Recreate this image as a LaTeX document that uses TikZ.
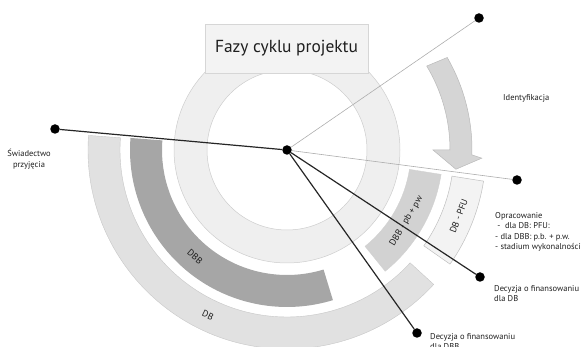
\documentclass[tikz,border=0pt]{standalone}
\usepackage{fontspec}
\setmainfont{PT Sans}
\definecolor{ringc}{HTML}{EFEFEF}
\definecolor{ringe}{HTML}{CDCDCD}
\definecolor{boxc}{HTML}{F3F3F3}
\definecolor{boxe}{HTML}{D6D6D6}
\definecolor{dbbc}{HTML}{A6A6A6}
\definecolor{pbc}{HTML}{D2D2D2}
\definecolor{dbc}{HTML}{E1E1E1}
\definecolor{pfuc}{HTML}{F3F3F3}
\definecolor{arrc}{HTML}{D5D5D5}
\definecolor{arre}{HTML}{B9B9B9}
\definecolor{txt}{HTML}{1E1E1E}
\begin{document}
\begin{tikzpicture}[x=1pt,y=1pt,
  lbl/.style={font=\fontsize{8.5}{10}\selectfont, text=txt, inner sep=0pt, anchor=base west},
  clbl/.style={font=\fontsize{8.5}{10}\selectfont, text=txt, inner sep=0pt, anchor=base},
  bandlbl/.style={font=\fontsize{9.2}{10}\selectfont, text=txt, inner sep=0pt},
  dotnode/.style={circle, fill=black, minimum size=9.5pt, inner sep=0pt},
  thinln/.style={draw=black!32, line width=0.6pt},
  thickln/.style={draw=black!85, line width=1.2pt},
  bandedge/.style={draw=black!22, line width=0.4pt}]
\useasboundingbox (0,0) rectangle (587,347);
\clip (0,0) rectangle (587,347);

\begin{scope}[shift={(287,197)}]
  % inner ring
  \path[fill=ringc, draw=ringe, line width=0.5pt, even odd rule]
    (0,0) circle[radius=113pt] (0,0) circle[radius=80pt];
  % DB band
  \path[fill=dbc, bandedge]
    (175.8:199pt) arc[start angle=175.8, end angle=317.5, radius=199pt]
    -- (317.5:167pt) arc[start angle=317.5, end angle=175.8, radius=167pt] -- cycle;
  % DB - PFU
  \path[fill=pfuc, draw=black!25, line width=0.5pt]
    (-35:199pt) arc[start angle=-35, end angle=-9, radius=199pt]
    -- (-9:167pt) arc[start angle=-9, end angle=-35, radius=167pt] -- cycle;
  % DBB dark band
  \path[fill=dbbc]
    (175.6:157pt) arc[start angle=175.6, end angle=287, radius=157pt]
    -- (287:125pt) arc[start angle=287, end angle=175.6, radius=125pt] -- cycle;
  % DBB - pb + pw
  \path[fill=pbc, draw=black!18, line width=0.4pt]
    (-51:156pt) arc[start angle=-51, end angle=-9, radius=156pt]
    -- (-9:124pt) arc[start angle=-9, end angle=-51, radius=124pt] -- cycle;
  % curved arrow
  \path[fill=arrc, draw=arre, line width=0.5pt]
    (30:185pt) arc[start angle=30, end angle=-1.5, radius=185pt]
    -- (-2.4:195pt) -- (-6.5:170pt) -- (0:146pt) -- (0:163pt)
    arc[start angle=0, end angle=31, radius=163pt] -- cycle;
  % band labels
  \node[bandlbl, rotate=-40.7] (lDBB) at (-130.7:141pt) {DBB};
  \node[bandlbl, rotate=-25.6] (lDB) at (-115.6:183pt) {DB};
  \node[bandlbl, rotate=59.3] (lPB) at (-30.7:139pt) {DBB - pb + pw};
  \node[bandlbl, rotate=69] (lPFU) at (-21:184pt) {DB - PFU};
\end{scope}

% title box
\node[draw=boxe, fill=boxc, line width=0.6pt, minimum width=163pt, minimum height=49pt,
      inner sep=0pt, font=\fontsize{17.4}{19}\selectfont, text=txt] (title) at (286.5,298.5) {Fazy cyklu projektu};

% dots
\node[dotnode] (c) at (287,197) {};
\node[dotnode] (tr) at (479,329) {};
\node[dotnode] (r) at (517,167) {};
\node[dotnode] (l) at (55,218) {};
\node[dotnode] (db) at (480,70) {};
\node[dotnode] (dbb) at (417,14) {};

% connectors
\draw[thinln] (c) -- (tr);
\draw[thinln] (c) -- (r);
\draw[thickln] (l) -- (c);
\draw[thickln] (c) -- (db);
\draw[thickln] (c) -- (dbb);

% labels
\node[lbl] (ident) at (503,246.5) {Identyfikacja};
\node[clbl] (sw1) at (29,190.5) {Świadectwo};
\node[clbl] (sw2) at (29,179.5) {przyjęcia};
\node[lbl] (op1) at (495,128.5) {Opracowanie};
\node[lbl] (op2) at (495,118) {\ -\ \ dla DB: PFU:};
\node[lbl] (op3) at (495,107.5) {- dla DBB: p.b. + p.w.};
\node[lbl] (op4) at (495,97) {- stadium wykonalności};
\node[lbl] (dec1) at (494,55.5) {Decyzja o finansowaniu};
\node[lbl] (dec2) at (494,45) {dla DB};
\node[lbl] (decb1) at (430,7.5) {Decyzja o finansowaniu};
\node[lbl] (decb2) at (430,-3) {dla DBB};
\end{tikzpicture}
\end{document}
